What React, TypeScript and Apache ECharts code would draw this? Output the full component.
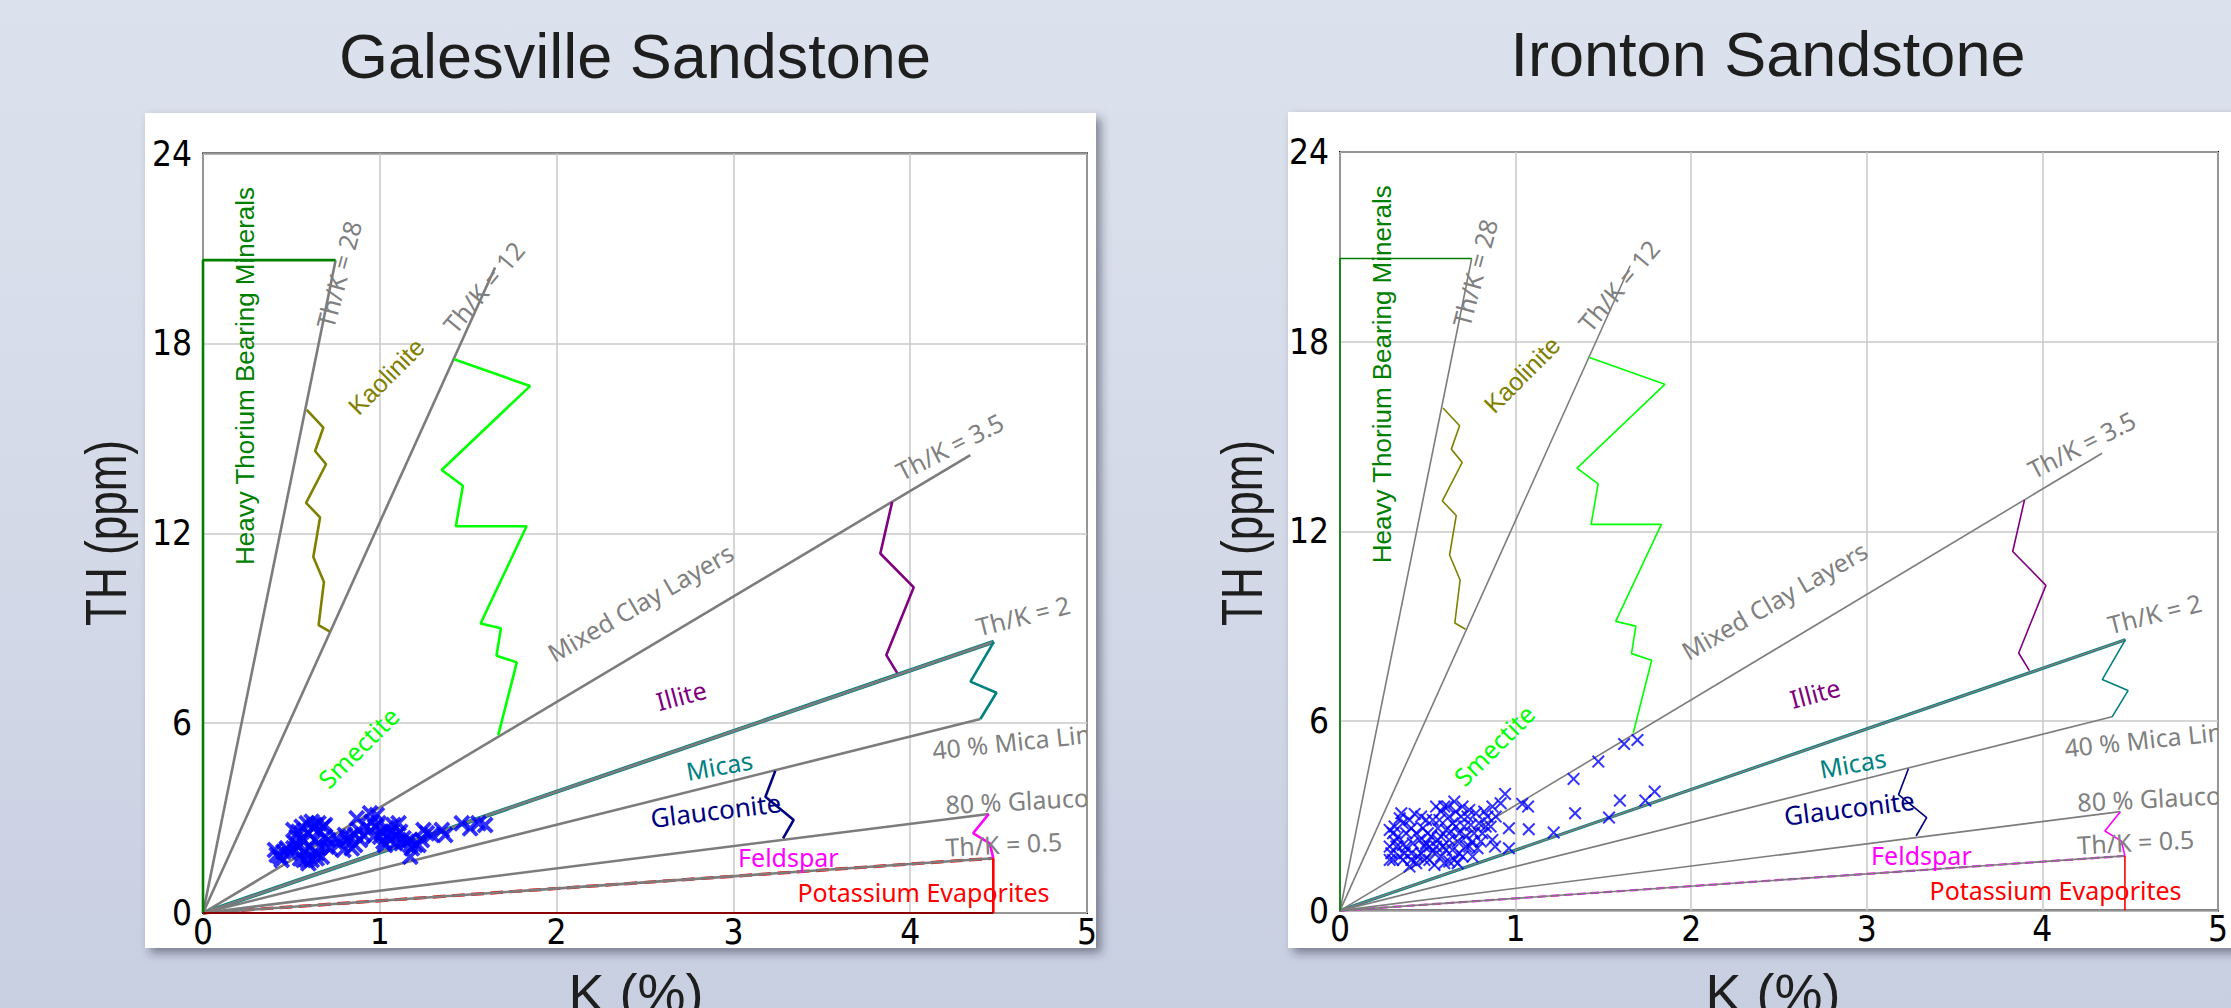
import React, { useEffect, useRef } from "react";
import * as echarts from "echarts";

// Axis ranges and tick steps
const kRange = [0, 5];
const thRange = [0, 24];
const kStep = 1;
const thStep = 6;

const panelTitles = ["Galesville Sandstone", "Ironton Sandstone"];
const kAxisTitle = "K (%)";
const thAxisTitle = "TH (ppm)";

// Th/K ratio lines drawn from the origin (K %, Th ppm)
const ratio28 = [[0, 0], [0.75, 20.63]];
const ratio12 = [[0, 0], [1.652, 20.4]];
const ratio35 = [[0, 0], [4.34, 14.47]];
const ratio2 = [[0, 0], [4.473, 8.57]];
const micaLine40 = [[0, 0], [4.397, 6.13]];
const glauconiteLine80 = [[0, 0], [4.444, 3.13]];
const ratio05 = [[0, 0], [4.47, 1.73]];

// Mineral zone boundaries
const heavyThorium = [[0, 0], [0, 20.63], [0.75, 20.63]];
const kaolinite = [
  [0.587, 15.9], [0.681, 15.34], [0.634, 14.6], [0.696, 14.18], [0.583, 12.96],
  [0.662, 12.5], [0.624, 11.25], [0.684, 10.46], [0.654, 9.1], [0.715, 8.9],
];
const smectite = [
  [1.42, 17.5], [1.85, 16.65], [1.35, 14.0], [1.47, 13.5], [1.43, 12.22],
  [1.83, 12.22], [1.57, 9.15], [1.685, 9.0], [1.66, 8.13], [1.775, 7.92], [1.67, 5.62],
];
const illite = [[3.898, 12.99], [3.831, 11.36], [4.02, 10.29], [3.865, 8.15], [3.926, 7.59]];
const micas = [[4.473, 8.57], [4.341, 7.31], [4.488, 6.96], [4.397, 6.13]];
const glauconite = [[3.237, 4.49], [3.181, 3.67], [3.341, 2.94], [3.281, 2.36]];
const feldspar = [[4.444, 3.13], [4.356, 2.52], [4.45, 2.2], [4.47, 1.73]];
const potassiumEdge = [[4.47, 1.73], [4.47, 0]];
const potassiumBase = [[0, 0], [4.47, 0]];

// Galesville Sandstone samples (K %, Th ppm)
const galesville = [
  [0.407, 1.99], [0.417, 1.832], [0.436, 1.78], [0.455, 1.938], [0.492, 1.885], [0.511, 2.043],
  [0.521, 2.201], [0.53, 2.412], [0.511, 2.622], [0.54, 2.57], [0.558, 2.728], [0.568, 2.254],
  [0.587, 2.833], [0.596, 2.517], [0.606, 2.096], [0.615, 2.886], [0.624, 2.675], [0.634, 2.306],
  [0.643, 1.885], [0.653, 2.57], [0.662, 2.096], [0.672, 1.78], [0.681, 2.728], [0.69, 2.412],
  [0.587, 1.674], [0.596, 1.569], [0.568, 1.674], [0.549, 1.727], [0.54, 2.096], [0.615, 1.674],
  [0.643, 1.727], [0.7, 2.096], [0.709, 2.306], [0.719, 2.043], [0.69, 2.78], [0.577, 1.99],
  [0.558, 2.359], [0.53, 2.148], [0.474, 2.043], [0.445, 1.674], [0.653, 2.833], [0.634, 2.78],
  [0.756, 2.359], [0.775, 2.201], [0.794, 1.99], [0.813, 2.306], [0.803, 2.464], [0.832, 2.412],
  [0.841, 2.043], [0.86, 2.148], [0.869, 2.991], [0.879, 2.622], [0.86, 2.464], [0.888, 2.306],
  [0.907, 2.464], [0.926, 2.728], [0.945, 3.149], [0.954, 2.886], [0.964, 2.412], [0.973, 2.728],
  [0.983, 3.096], [0.992, 2.833], [1.002, 2.412], [1.011, 2.57], [1.021, 2.254], [1.03, 2.148],
  [1.039, 2.675], [1.049, 2.464], [1.058, 2.306], [1.068, 2.57], [1.077, 2.78], [1.087, 2.201],
  [1.096, 2.464], [1.106, 2.833], [1.115, 2.57], [1.124, 2.201], [1.134, 2.359], [1.153, 2.254],
  [1.172, 2.306], [1.181, 2.043], [1.172, 1.78], [1.2, 2.148], [1.219, 2.148], [1.238, 2.306],
  [1.247, 2.622], [1.266, 2.517], [1.294, 2.464], [1.351, 2.622], [1.37, 2.464], [1.464, 2.833],
  [1.511, 2.675], [1.558, 2.833], [1.596, 2.78],
];

// Ironton Sandstone samples (K %, Th ppm)
const ironton = [
  [1.694, 5.399], [1.618, 5.272], [1.471, 4.714], [1.33, 4.166], [1.792, 3.765], [1.594, 3.48],
  [1.739, 3.48], [1.339, 3.08], [1.532, 2.943], [1.217, 2.468], [1.075, 2.573], [0.962, 2.605],
  [0.962, 1.973], [0.883, 2.025], [1.038, 3.375], [1.071, 3.291], [0.94, 3.691], [0.915, 3.396],
  [0.868, 3.291],
  [0.283, 2.552], [0.311, 2.658], [0.349, 3.08], [0.358, 2.764], [0.425, 3.059], [0.396, 2.869],
  [0.491, 2.869], [0.472, 2.605], [0.434, 2.447], [0.377, 2.447], [0.33, 2.342], [0.292, 1.815],
  [0.302, 1.604], [0.34, 1.709], [0.377, 2.025], [0.406, 1.604], [0.396, 1.393], [0.434, 1.498],
  [0.462, 1.815], [0.491, 2.131], [0.519, 2.342], [0.547, 2.025], [0.575, 1.709], [0.538, 1.446],
  [0.509, 1.604], [0.594, 3.291], [0.575, 3.133], [0.622, 2.975], [0.651, 3.449], [0.66, 3.133],
  [0.641, 2.764], [0.604, 2.552], [0.622, 2.236], [0.67, 2.183], [0.689, 2.975], [0.707, 2.658],
  [0.726, 2.975], [0.717, 2.342], [0.736, 2.025], [0.755, 1.709], [0.698, 1.709], [0.651, 1.604],
  [0.622, 1.551], [0.774, 3.08], [0.792, 2.764], [0.811, 2.447], [0.764, 2.447], [0.821, 3.133],
  [0.84, 2.975], [0.83, 2.658], [0.736, 3.186], [0.679, 2.447], [0.604, 1.92], [0.557, 2.605],
  [0.528, 2.869], [0.5, 2.447], [0.453, 2.236], [0.415, 2.131], [0.358, 2.078], [0.321, 2.025],
  [0.283, 1.604], [0.311, 2.183], [0.358, 1.604], [0.443, 1.709], [0.481, 1.604], [0.575, 2.342],
  [0.641, 1.92], [0.66, 2.658], [0.566, 2.869], [0.698, 3.291], [0.547, 3.291], [0.613, 3.291],
  [0.745, 2.711], [0.783, 1.973], [0.858, 2.658], [0.868, 2.236], [0.887, 2.975], [0.34, 2.922],
  [0.406, 2.605], [0.462, 2.975], [0.481, 2.025], [0.528, 1.867], [0.585, 2.025], [0.632, 2.5],
  [0.679, 1.815], [0.717, 2.025], [0.755, 2.183], [0.802, 2.183], [0.368, 1.815], [0.283, 2.025],
  [0.302, 2.447], [0.406, 1.815], [0.509, 2.025], [0.557, 2.236], [0.594, 1.498], [0.67, 1.498],
];

// Zone and ratio annotations, anchored in data units (K %, Th ppm)
const zoneLabels = [
  { text: "Heavy Thorium Bearing Minerals", k: 0.238, th: 16.97, angle: 90, color: "#008000", face: "arial", size: 26, align: "center" },
  { text: "Th/K = 28", k: 0.766, th: 20.18, angle: 75, color: "#808080", face: "label", size: 25, align: "center" },
  { text: "Th/K = 12", k: 1.586, th: 19.78, angle: 50, color: "#808080", face: "label", size: 25, align: "center" },
  { text: "Kaolinite", k: 1.036, th: 16.96, angle: 45, color: "#808000", face: "arial", size: 25, align: "center" },
  { text: "Smectite", k: 0.877, th: 5.24, angle: 45, color: "#00ff00", face: "label", size: 25, align: "center" },
  { text: "Mixed Clay Layers", k: 2.473, th: 9.82, angle: 30, color: "#808080", face: "label", size: 25, align: "center" },
  { text: "Th/K = 3.5", k: 4.222, th: 14.75, angle: 27, color: "#808080", face: "label", size: 25, align: "center" },
  { text: "Illite", k: 2.705, th: 6.89, angle: 15, color: "#800080", face: "label", size: 25, align: "center" },
  { text: "Th/K = 2", k: 4.638, th: 9.41, angle: 14, color: "#808080", face: "label", size: 25, align: "center" },
  { text: "Micas", k: 2.92, th: 4.67, angle: 10, color: "#008080", face: "label", size: 25, align: "center" },
  { text: "40 % Mica Line", k: 4.125, th: 5.16, angle: 6, color: "#808080", face: "label", size: 25, align: "left" },
  { text: "Glauconite", k: 2.9, th: 3.253, angle: 7, color: "#000080", face: "label", size: 26, align: "center" },
  { text: "80 % Glauconite", k: 4.199, th: 3.44, angle: 3, color: "#808080", face: "label", size: 25, align: "left" },
  { text: "Feldspar", k: 3.311, th: 1.77, angle: 0, color: "#ff00ff", face: "label", size: 25, align: "center" },
  { text: "Th/K = 0.5", k: 4.199, th: 2.09, angle: 3, color: "#808080", face: "label", size: 25, align: "left" },
  { text: "Potassium Evaporites", k: 4.075, th: 0.663, angle: 0, color: "#ff0000", face: "label", size: 25, align: "center" },
];

const FONT_ARIAL = "'Liberation Sans', Arial, Helvetica, sans-serif";
const FONT_NARROW = "'Liberation Sans Narrow', 'Arial Narrow', 'DejaVu Sans Condensed', 'Liberation Sans', sans-serif";
const FONT_LABEL = "'Noto Sans', 'Open Sans', 'DejaVu Sans', sans-serif";
const GRAY = "#7c7c7c";

const crossBold = "path://M0,1.6 L1.6,0 L5,3.4 L8.4,0 L10,1.6 L6.6,5 L10,8.4 L8.4,10 L5,6.6 L1.6,10 L0,8.4 L3.4,5 Z";
const crossThin = "path://M0,1.1 L1.1,0 L5,3.9 L8.9,0 L10,1.1 L6.1,5 L10,8.9 L8.9,10 L5,6.1 L1.1,10 L0,8.9 L3.9,5 Z";

type Pt = number[];

function panelSeries(g: number, points: Pt[], thin: boolean) {
  const w = thin ? 1.6 : 2.6;
  const line = (data: Pt[], color: string, width: number, z: number, type: string = "solid") => ({
    type: "line",
    xAxisIndex: g,
    yAxisIndex: g,
    data,
    symbol: "none",
    showSymbol: false,
    silent: true,
    clip: false,
    z,
    lineStyle: { color, width, type },
  });
  return [
    // coloured zone edges running underneath the ratio lines
    line(ratio2, "#008080", w + 1.6, 2),
    line(ratio05, thin ? "#ff00ff" : "#ff0000", w + 0.6, 2, "dashed"),
    // ratio lines
    line(ratio28, GRAY, w, 3),
    line(ratio12, GRAY, w, 3),
    line(ratio35, GRAY, w, 3),
    line(ratio2, GRAY, w, 3),
    line(micaLine40, GRAY, w, 3),
    line(glauconiteLine80, GRAY, w, 3),
    line(ratio05, GRAY, w, 3),
    // zone boundaries
    line(heavyThorium, "#008000", w, 4),
    line(kaolinite, "#808000", w, 4),
    line(smectite, "#00ff00", w, 4),
    line(illite, "#800080", w, 4),
    line(micas, "#008080", w, 4),
    line(glauconite, "#000080", w, 4),
    line(feldspar, "#ff00ff", w, 4),
    line(potassiumEdge, "#ff0000", w, 4),
    ...(thin ? [] : [line(potassiumBase, "#8b0000", 2, 4)]),
    {
      type: "custom",
      xAxisIndex: g,
      yAxisIndex: g,
      clip: true,
      silent: true,
      z: 5,
      data: zoneLabels.map((l) => [l.k, l.th]),
      renderItem: (params: any, api: any) => {
        const l = zoneLabels[params.dataIndex];
        const p = api.coord([api.value(0), api.value(1)]);
        return {
          type: "text",
          x: p[0],
          y: p[1],
          rotation: (l.angle * Math.PI) / 180,
          style: {
            text: l.text,
            fill: l.color,
            fontSize: l.size,
            fontFamily: l.face === "arial" ? FONT_ARIAL : FONT_LABEL,
            align: l.align,
            verticalAlign: "middle",
          },
        };
      },
    },
    {
      type: "scatter",
      xAxisIndex: g,
      yAxisIndex: g,
      data: points,
      symbol: thin ? crossThin : crossBold,
      symbolSize: thin ? 13 : 17,
      silent: true,
      z: 6,
      itemStyle: { color: "#0000ff" },
    },
  ];
}

function axisPair(g: number) {
  const x = {
    gridIndex: g,
    type: "value",
    min: kRange[0],
    max: kRange[1],
    interval: kStep,
    axisLine: { show: false },
    axisTick: { show: false },
    splitLine: { show: true, lineStyle: { color: "#c8c8c8", width: 1.5 } },
    axisLabel: { color: "#000", fontSize: 35, fontFamily: FONT_NARROW, margin: 1, showMaxLabel: true },
  };
  const y = {
    gridIndex: g,
    type: "value",
    min: thRange[0],
    max: thRange[1],
    interval: thStep,
    axisLine: { show: false },
    axisTick: { show: false },
    splitLine: { show: true, lineStyle: { color: "#c8c8c8", width: 1.5 } },
    axisLabel: { color: "#000", fontSize: 35, fontFamily: FONT_NARROW, margin: 11 },
  };
  return { x, y };
}

function textEl(text: string, x: number, y: number, size: number, rotation = 0, squeeze = 1) {
  return {
    type: "text",
    x,
    y,
    rotation,
    scaleX: squeeze,
    z: 20,
    style: {
      text,
      fill: "#1e1e1e",
      fontSize: size,
      fontFamily: FONT_ARIAL,
      align: "center",
      verticalAlign: "middle",
      textAlign: "center",
      textVerticalAlign: "middle",
    },
  };
}

export default function App() {
  const ref = useRef<HTMLDivElement>(null);

  useEffect(() => {
    if (!ref.current) return;
    const chart = echarts.init(ref.current, undefined, { renderer: "svg" });
    const a0 = axisPair(0);
    const a1 = axisPair(1);
    const panelShadow = {
      fill: "#ffffff",
      shadowBlur: 10,
      shadowOffsetX: 5,
      shadowOffsetY: 5,
      shadowColor: "rgba(40,40,60,0.5)",
    };
    chart.setOption({
      animation: false,
      backgroundColor: "transparent",
      grid: [
        { left: 203, top: 153.5, width: 884, height: 759.5, show: true, backgroundColor: "#fff", borderColor: "#000", borderWidth: 2 },
        { left: 1340, top: 152, width: 884, height: 758.6, show: true, backgroundColor: "#fff", borderColor: "#000", borderWidth: 2 },
      ],
      xAxis: [a0.x, a1.x],
      yAxis: [a0.y, a1.y],
      graphic: [
        { type: "rect", z: -10, shape: { x: 145, y: 113, width: 951, height: 835 }, style: panelShadow },
        { type: "rect", z: -10, shape: { x: 1288, y: 112, width: 960, height: 836 }, style: panelShadow },
        textEl(panelTitles[0], 635, 56, 63),
        textEl(panelTitles[1], 1768, 54, 63),
        textEl(thAxisTitle, 106, 533, 58, Math.PI / 2, 0.76),
        textEl(thAxisTitle, 1242, 533, 58, Math.PI / 2, 0.76),
        textEl(kAxisTitle, 636, 993, 54),
        textEl(kAxisTitle, 1773, 993, 54),
      ],
      series: [...panelSeries(0, galesville, false), ...panelSeries(1, ironton, true)],
    });
    return () => chart.dispose();
  }, []);

  return (
    <div
      ref={ref}
      style={{
        position: "absolute",
        left: 0,
        top: 0,
        width: 2231,
        height: 1008,
        background: "linear-gradient(180deg, #dce2ed 0%, #d3d9e7 55%, #c8cfe1 100%)",
      }}
    />
  );
}
